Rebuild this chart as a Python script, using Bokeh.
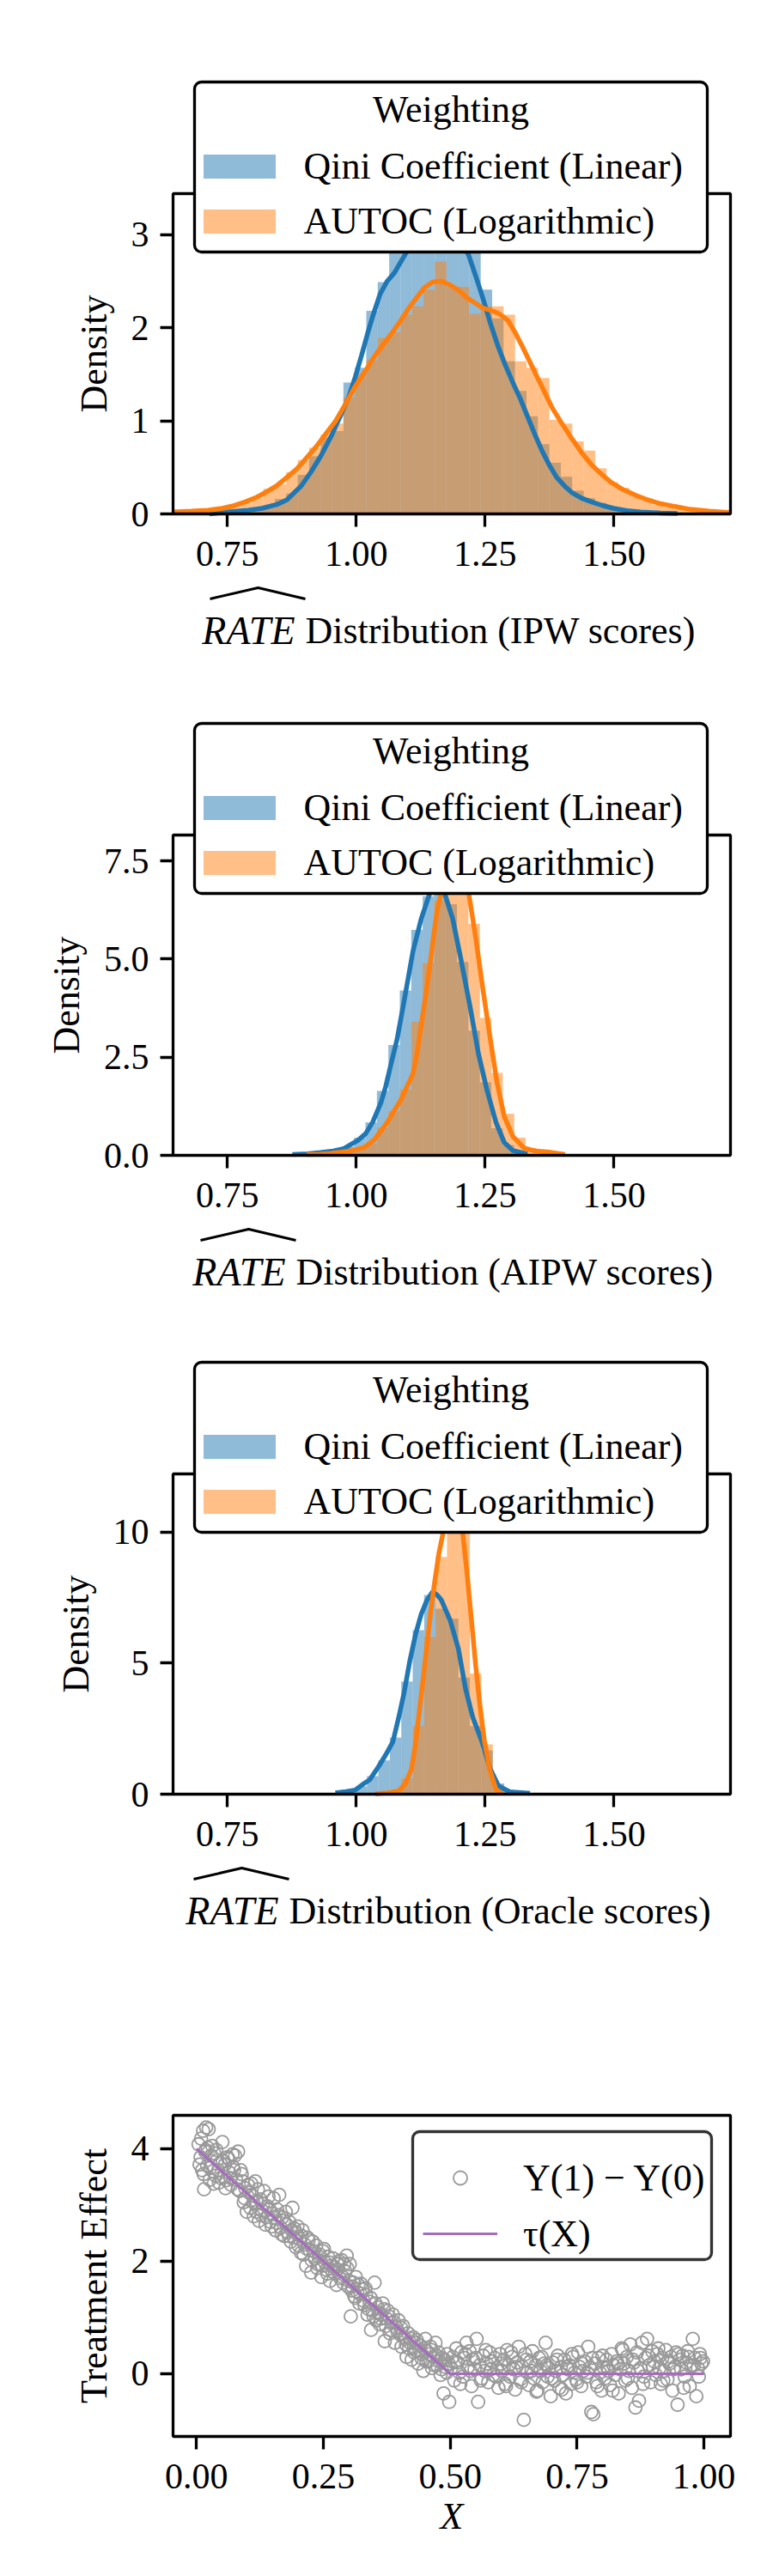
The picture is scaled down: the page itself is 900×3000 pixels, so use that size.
import numpy as np
from bokeh.plotting import figure
from bokeh.models import (Range1d, FixedTicker, NumeralTickFormatter, Legend, LinearAxis,
                          LegendItem, Label, PolyAnnotation, BoxAnnotation)
from bokeh.layouts import column
from bokeh.embed import file_html
from bokeh.resources import INLINE

# ---------------- data ----------------
# IPW scores panel
ipw_bin_start = 0.7086
ipw_bin_width = 0.0222
ipw_qini_hist = [0.0, 0.0, 0.01, 0.02, 0.04, 0.08, 0.16, 0.22, 0.42, 0.62, 0.82, 0.89,
                 1.41, 1.57, 2.18, 2.49, 2.85, 3.0, 3.12, 3.27, 3.05, 3.15, 3.0, 2.9,
                 2.41, 2.1, 1.64, 1.32, 1.05, 0.75, 0.55, 0.4, 0.25, 0.17, 0.12, 0.08,
                 0.06, 0.04, 0.03, 0.02, 0.01, 0.0, 0.0, 0.0, 0.0]
ipw_autoc_hist = [0.03, 0.05, 0.08, 0.12, 0.17, 0.27, 0.32, 0.45, 0.58, 0.71, 0.85, 0.97,
                  1.25, 1.50, 1.65, 1.89, 1.95, 2.14, 2.23, 2.41, 2.71, 2.44, 2.44, 2.15,
                  2.23, 2.23, 2.14, 1.64, 1.57, 1.46, 1.01, 0.97, 0.78, 0.68, 0.49, 0.34,
                  0.28, 0.20, 0.15, 0.10, 0.07, 0.05, 0.04, 0.02, 0.01]
ipw_qini_kde_x = [0.715, 0.75, 0.79, 0.817, 0.845, 0.865, 0.893, 0.912, 0.931, 0.95, 0.969,
                  0.985, 0.998, 1.01, 1.022, 1.034, 1.046, 1.06, 1.074, 1.094, 1.115, 1.135,
                  1.155, 1.175, 1.195, 1.218, 1.232, 1.246, 1.26, 1.275, 1.289, 1.303, 1.318,
                  1.332, 1.346, 1.361, 1.375, 1.389, 1.404, 1.418, 1.437, 1.456, 1.478, 1.499,
                  1.525, 1.552, 1.59, 1.623]
ipw_qini_kde_y = [0.0, 0.02, 0.04, 0.06, 0.1, 0.15, 0.3, 0.45, 0.62, 0.82, 1.05, 1.25, 1.47,
                  1.7, 1.94, 2.16, 2.36, 2.5, 2.59, 2.78, 2.98, 3.1, 3.15, 3.12, 3.0, 2.78,
                  2.55, 2.31, 2.05, 1.8, 1.6, 1.42, 1.24, 1.05, 0.86, 0.67, 0.52, 0.39, 0.3,
                  0.23, 0.17, 0.13, 0.09, 0.06, 0.035, 0.02, 0.01, 0.005]
ipw_autoc_kde_x = [0.6445, 0.68, 0.712, 0.74, 0.76, 0.785, 0.807, 0.827, 0.845, 0.865, 0.884,
                   0.903, 0.922, 0.941, 0.96, 0.979, 0.998, 1.017, 1.036, 1.055, 1.074, 1.089,
                   1.103, 1.118, 1.132, 1.148, 1.165, 1.182, 1.199, 1.215, 1.232, 1.246, 1.26,
                   1.277, 1.294, 1.308, 1.322, 1.337, 1.351, 1.366, 1.38, 1.399, 1.418, 1.437,
                   1.456, 1.475, 1.494, 1.518, 1.542, 1.566, 1.59, 1.618, 1.647, 1.685, 1.726]
ipw_autoc_kde_y = [0.02, 0.03, 0.04, 0.06, 0.085, 0.13, 0.18, 0.24, 0.3, 0.39, 0.48, 0.6, 0.72,
                   0.86, 1.0, 1.18, 1.37, 1.53, 1.7, 1.84, 1.98, 2.1, 2.22, 2.33, 2.43, 2.49,
                   2.5, 2.46, 2.4, 2.32, 2.26, 2.21, 2.19, 2.15, 2.08, 1.95, 1.8, 1.63, 1.47,
                   1.3, 1.14, 0.97, 0.81, 0.66, 0.53, 0.43, 0.34, 0.26, 0.2, 0.15, 0.11, 0.08,
                   0.05, 0.03, 0.015]

# AIPW scores panel
aipw_bin_start = 0.8624
aipw_bin_width = 0.0222
aipw_qini_hist = [0.01, 0.02, 0.04, 0.07, 0.12, 0.22, 0.45, 0.84, 1.64, 2.81, 4.2, 5.74, 6.6,
                  6.9, 6.4, 4.93, 3.18, 1.86, 0.69, 0.26, 0.08, 0.02, 0.0, 0.0, 0.0]
aipw_autoc_hist = [0.0, 0.0, 0.01, 0.03, 0.05, 0.1, 0.17, 0.3, 0.7, 1.13, 1.68, 3.4, 4.9, 6.5,
                   7.7, 7.4, 5.9, 3.5, 2.1, 1.06, 0.45, 0.18, 0.1, 0.06, 0.02]
aipw_qini_kde_x = [0.876, 0.905, 0.93, 0.955, 0.976, 0.99, 1.003, 1.018, 1.032, 1.048, 1.057,
                   1.066, 1.079, 1.093, 1.11, 1.126, 1.143, 1.157, 1.171, 1.187, 1.204, 1.221,
                   1.237, 1.254, 1.271, 1.287, 1.304, 1.326, 1.332]
aipw_qini_kde_y = [0.02, 0.04, 0.07, 0.11, 0.17, 0.28, 0.38, 0.55, 0.85, 1.35, 1.75, 2.25, 2.95,
                   3.95, 5.2, 6.03, 6.69, 6.85, 6.69, 6.03, 4.93, 3.77, 2.59, 1.64, 0.84, 0.33,
                   0.12, 0.05, 0.03]
aipw_autoc_kde_x = [0.904, 0.93, 0.95, 0.97, 0.987, 1.0, 1.015, 1.035, 1.06, 1.087, 1.11, 1.118,
                    1.126, 1.135, 1.143, 1.15, 1.157, 1.165, 1.178, 1.19, 1.204, 1.218, 1.232,
                    1.246, 1.26, 1.273, 1.287, 1.304, 1.326, 1.348, 1.376, 1.405]
aipw_autoc_kde_y = [0.02, 0.03, 0.05, 0.08, 0.11, 0.15, 0.2, 0.4, 0.84, 1.43, 2.08, 2.6, 3.33,
                    4.1, 4.86, 5.6, 6.25, 6.69, 7.4, 7.75, 7.5, 6.69, 5.52, 4.2, 2.96, 1.86,
                    0.99, 0.48, 0.18, 0.11, 0.08, 0.02]

# Oracle scores panel
orc_bin_start = 0.954
orc_bin_width = 0.0222
orc_qini_hist = [0.05, 0.12, 0.3, 0.69, 1.29, 2.16, 4.3, 6.26, 7.6, 7.08, 6.7, 4.45, 2.6, 1.67,
                 0.41, 0.1, 0.04]
orc_autoc_hist = [0.0, 0.0, 0.0, 0.02, 0.04, 0.1, 0.6, 2.6, 6.0, 9.05, 11.64, 10.2, 4.6, 1.9,
                  0.3, 0.08, 0.0]
orc_qini_kde_x = [0.9595, 0.98, 0.998, 1.015, 1.026, 1.043, 1.057, 1.071, 1.082, 1.093, 1.104,
                  1.115, 1.126, 1.137, 1.148, 1.157, 1.165, 1.182, 1.198, 1.212, 1.226, 1.243,
                  1.26, 1.276, 1.298, 1.337]
orc_qini_kde_y = [0.05, 0.1, 0.16, 0.41, 0.55, 1.05, 1.5, 2.0, 2.9, 3.9, 5.1, 6.1, 6.87, 7.4,
                  7.72, 7.6, 7.41, 6.64, 5.55, 4.02, 2.93, 2.05, 0.96, 0.31, 0.09, 0.03]
orc_autoc_kde_x = [1.037, 1.06, 1.082, 1.095, 1.107, 1.114, 1.121, 1.129, 1.137, 1.144, 1.151,
                   1.16, 1.168, 1.177, 1.187, 1.197, 1.2067, 1.215, 1.2234, 1.2317, 1.24,
                   1.2484, 1.2595, 1.2706, 1.2817]
orc_autoc_kde_y = [0.02, 0.05, 0.12, 0.4, 0.96, 1.8, 2.93, 4.3, 5.66, 6.9, 7.96, 9.16, 9.93,
                   10.9, 11.5, 11.2, 9.93, 8.4, 6.65, 4.9, 3.37, 2.05, 0.9, 0.2, 0.03]

series_labels = ["Qini Coefficient (Linear)", "AUTOC (Logarithmic)"]
legend_title = "Weighting"
score_names = ["IPW scores", "AIPW scores", "Oracle scores"]
rate_x_ticks = [0.75, 1.0, 1.25, 1.5]

# Treatment-effect scatter
te_x = [0.004, 0.008, 0.011, 0.013, 0.015, 0.017, 0.019, 0.021, 0.024, 0.026, 0.029, 0.032,
        0.035, 0.038, 0.041, 0.044, 0.047, 0.051, 0.054, 0.057, 0.061, 0.064, 0.068, 0.071,
        0.074, 0.078, 0.082, 0.085, 0.089, 0.093, 0.096, 0.099,
        0.102, 0.106, 0.109, 0.113, 0.116, 0.119, 0.123, 0.126, 0.129, 0.133, 0.136, 0.139,
        0.142, 0.146, 0.149, 0.152, 0.156, 0.159, 0.163, 0.166, 0.169, 0.173, 0.176, 0.179,
        0.183, 0.186, 0.189, 0.193, 0.196, 0.199,
        0.203, 0.206, 0.209, 0.213, 0.216, 0.219, 0.223, 0.226, 0.229, 0.233, 0.236, 0.239,
        0.243, 0.246, 0.249, 0.253, 0.256, 0.259, 0.263, 0.266, 0.269, 0.273, 0.276, 0.279,
        0.283, 0.286, 0.289, 0.293, 0.296, 0.299,
        0.302, 0.304, 0.307, 0.311, 0.314, 0.317, 0.321, 0.324, 0.327, 0.331, 0.334, 0.337,
        0.341, 0.344, 0.347, 0.351, 0.354, 0.357, 0.361, 0.364, 0.367, 0.371, 0.374, 0.377,
        0.381, 0.384, 0.387, 0.391, 0.394, 0.398,
        0.401, 0.404, 0.407, 0.411, 0.414, 0.417, 0.421, 0.424, 0.427, 0.431, 0.434, 0.437,
        0.441, 0.444, 0.447, 0.451, 0.454, 0.457, 0.461, 0.464, 0.467, 0.471, 0.474, 0.477,
        0.481, 0.484, 0.487, 0.491, 0.494, 0.498,
        0.502, 0.505, 0.508, 0.512, 0.515, 0.518, 0.522, 0.525, 0.528, 0.532, 0.535, 0.538,
        0.542, 0.545, 0.548, 0.552, 0.555, 0.558, 0.562, 0.565, 0.568, 0.572, 0.575, 0.578,
        0.582, 0.585, 0.588, 0.592, 0.595, 0.598,
        0.602, 0.605, 0.608, 0.612, 0.615, 0.618, 0.622, 0.625, 0.628, 0.632, 0.635, 0.638,
        0.642, 0.645, 0.648, 0.652, 0.655, 0.658, 0.662, 0.665, 0.668, 0.672, 0.675, 0.678,
        0.682, 0.685, 0.688, 0.692, 0.695, 0.698,
        0.702, 0.705, 0.708, 0.712, 0.715, 0.718, 0.722, 0.725, 0.728, 0.732, 0.735, 0.738,
        0.742, 0.745, 0.748, 0.752, 0.755, 0.758, 0.762, 0.765, 0.768, 0.772, 0.775, 0.778,
        0.782, 0.785, 0.788, 0.792, 0.795, 0.798,
        0.802, 0.805, 0.808, 0.812, 0.815, 0.818, 0.822, 0.825, 0.828, 0.832, 0.835, 0.838,
        0.842, 0.845, 0.848, 0.852, 0.855, 0.858, 0.862, 0.865, 0.868, 0.872, 0.875, 0.878,
        0.882, 0.885, 0.888, 0.892, 0.895, 0.898,
        0.902, 0.905, 0.908, 0.912, 0.915, 0.918, 0.922, 0.925, 0.928, 0.932, 0.935, 0.938,
        0.942, 0.945, 0.948, 0.952, 0.955, 0.958, 0.962, 0.965, 0.968, 0.972, 0.975, 0.978,
        0.982, 0.985, 0.988, 0.992, 0.995, 0.998,
        0.006, 0.009, 0.014, 0.018, 0.022, 0.027, 0.031, 0.034, 0.039, 0.043, 0.048, 0.052,
        0.056, 0.059, 0.063, 0.067, 0.072, 0.076, 0.081, 0.087, 0.091, 0.095,
        0.104, 0.108, 0.112, 0.118, 0.121, 0.128, 0.131, 0.138, 0.144, 0.148, 0.154, 0.158,
        0.162, 0.168, 0.172, 0.178, 0.182, 0.188, 0.192, 0.197,
        0.201, 0.207, 0.211, 0.218, 0.221, 0.227, 0.231, 0.238, 0.241, 0.248, 0.251, 0.258,
        0.262, 0.268, 0.271, 0.278, 0.281, 0.288, 0.291, 0.297,
        0.301, 0.306, 0.309, 0.313, 0.319, 0.323, 0.329, 0.333, 0.339, 0.343, 0.349, 0.353,
        0.359, 0.363, 0.369, 0.373, 0.379, 0.383, 0.389, 0.396,
        0.403, 0.409, 0.413, 0.419, 0.423, 0.429, 0.433, 0.439, 0.443, 0.449, 0.453, 0.459,
        0.463, 0.469, 0.473, 0.479, 0.483, 0.489, 0.493, 0.497,
        0.51, 0.52, 0.53, 0.54, 0.55, 0.56, 0.57, 0.58, 0.59, 0.60,
        0.61, 0.62, 0.63, 0.64, 0.65, 0.66, 0.67, 0.68, 0.69, 0.70,
        0.71, 0.72, 0.73, 0.74, 0.75, 0.76, 0.77, 0.78, 0.79, 0.80,
        0.81, 0.82, 0.83, 0.84, 0.85, 0.86, 0.87, 0.88, 0.89, 0.90,
        0.91, 0.92, 0.93, 0.94, 0.95, 0.96, 0.97, 0.98, 0.99, 0.993]
te_y = [4.08, 3.85, 3.62, 4.32, 3.28, 3.95, 4.38, 3.70, 4.35, 3.45, 3.88, 3.60,
        3.92, 3.52, 3.80, 3.40, 3.75, 4.12, 3.50, 3.30, 3.85, 3.58, 3.36, 3.90,
        3.62, 3.45, 3.95, 3.25, 3.55, 3.05, 3.30, 2.88,
        3.35, 2.95, 3.18, 2.80, 3.42, 3.05, 2.72, 3.10, 2.90, 3.25, 2.65, 2.98,
        3.15, 2.70, 2.85, 3.12, 2.55, 2.92, 3.18, 2.60, 2.78, 2.45, 2.88, 2.52,
        2.70, 2.35, 2.95, 2.58, 2.25, 2.62,
        2.40, 2.15, 2.55, 2.30, 1.92, 2.42, 2.20, 1.80, 2.35, 2.05, 2.28, 1.95,
        2.12, 1.72, 2.18, 1.98, 1.85, 2.08, 1.65, 1.92, 2.05, 1.78, 1.58, 1.95,
        1.70, 2.02, 1.62, 1.82, 2.10, 1.55,
        1.95, 1.02, 1.55, 1.38, 1.72, 1.45, 1.25, 1.60, 1.50, 1.22, 1.40, 1.05,
        1.28, 0.78, 1.12, 1.62, 0.95, 1.18, 0.88, 1.05, 1.25, 0.58, 0.98, 1.12,
        0.72, 0.90, 1.05, 0.55, 0.82, 0.95,
        0.70, 0.48, 0.85, 0.62, 0.30, 0.72, 0.55, 0.25, 0.65, 0.42, 0.60, 0.18,
        0.50, 0.35, 0.05, 0.62, 0.40, 0.22, 0.48, 0.10, 0.30, 0.55, 0.15, 0.38,
        -0.02, 0.28, -0.35, 0.12, 0.35, -0.50,
        0.10, 0.30, -0.12, 0.45, 0.20, 0.02, 0.38, -0.05, 0.28, 0.55, 0.12, 0.40,
        -0.22, 0.25, 0.08, 0.62, -0.50, 0.15, -0.08, 0.32, 0.05, 0.18, -0.15, 0.38,
        0.22, -0.02, 0.28, 0.10, -0.25, 0.35,
        0.05, 0.25, -0.18, 0.42, 0.15, -0.05, 0.30, 0.08, -0.28, 0.20, 0.48, -0.10,
        0.12, -0.82, 0.35, 0.02, -0.20, 0.22, 0.40, -0.08, 0.15, -0.30, 0.28, 0.05,
        -0.15, 0.18, 0.55, -0.05, 0.10, -0.40,
        0.20, -0.12, 0.05, 0.32, -0.25, 0.12, -0.02, 0.25, -0.35, 0.08, 0.15, -0.18,
        0.30, 0.02, -0.10, 0.38, 0.12, -0.22, 0.05, 0.22, -0.05, 0.48, 0.10, -0.68,
        -0.72, 0.18, -0.15, 0.28, 0.02, -0.30,
        0.12, -0.08, 0.25, 0.05, -0.20, 0.35, 0.15, -0.02, 0.22, -0.35, 0.08, 0.45,
        0.18, -0.12, 0.30, 0.05, 0.52, -0.25, 0.20, -0.60, 0.38, -0.48, 0.10, 0.55,
        -0.05, 0.28, 0.62, 0.15, -0.15, 0.40,
        0.22, -0.02, 0.35, 0.10, -0.18, 0.28, 0.05, 0.42, -0.10, 0.18, 0.30, -0.30,
        0.12, 0.38, -0.55, 0.25, 0.08, 0.32, -0.05, 0.20, 0.40, -0.22, 0.15, 0.62,
        0.28, -0.40, 0.10, 0.35, 0.18, 0.22,
        3.72, 4.18, 3.55, 3.98, 4.02, 3.66, 4.05, 3.38, 3.98, 3.62, 3.48, 3.78,
        3.72, 3.44, 3.82, 3.48, 3.68, 3.88, 3.28, 3.62, 3.42, 3.12,
        3.22, 3.38, 3.05, 2.88, 3.28, 2.82, 3.02, 2.78, 2.92, 2.62, 2.78, 2.68,
        2.82, 2.48, 2.72, 2.65, 2.45, 2.55, 2.42, 2.50,
        2.28, 2.45, 2.12, 2.22, 2.38, 2.02, 2.18, 1.88, 2.08, 1.92, 2.22, 1.78,
        1.98, 1.82, 1.90, 1.85, 2.00, 1.72, 1.95, 1.88,
        1.65, 1.48, 1.62, 1.35, 1.58, 1.42, 1.30, 1.52, 1.15, 1.35, 1.02, 1.25,
        1.08, 0.98, 1.15, 0.85, 1.02, 0.78, 0.92, 0.75,
        0.82, 0.65, 0.52, 0.45, 0.62, 0.38, 0.55, 0.42, 0.28, 0.45, 0.22, 0.35,
        0.42, 0.15, 0.32, 0.22, 0.08, 0.25, 0.02, 0.18,
        0.22, -0.18, 0.35, 0.05, 0.28, -0.12, 0.42, 0.08, -0.05, 0.18,
        -0.22, 0.38, 0.12, -0.15, 0.25, 0.05, -0.32, 0.30, 0.15, -0.08,
        0.25, -0.28, 0.12, 0.35, -0.15, 0.18, 0.02, 0.28, -0.22, 0.32,
        0.10, -0.30, 0.18, 0.42, -0.08, 0.25, 0.05, -0.18, 0.32, 0.12,
        0.45, -0.12, 0.22, 0.08, 0.35, -0.25, 0.30, 0.15, -0.05, 0.28]
tau_x = [0.0, 0.5, 1.0]
tau_y = [4.0, 0.0, 0.0]
te_labels = ["Y(1) − Y(0)", "τ(X)"]
te_x_ticks = [0, 0.25, 0.5, 0.75, 1.0]
te_y_ticks = [0, 2, 4]

# ---------------- styling / geometry ----------------
FONT = "Liberation Serif"
TXT = "44px"
TICK = "42px"
BLUE = "#1f77b4"
ORANGE = "#ff7f0e"
FIG_W = 900
BOX_L = 201      # axes box left, px from figure left
BOX_W = 649      # axes box width, px


class Geo:
    """Maps pixel offsets (relative to the axes box) to data coordinates."""

    def __init__(self, H, T, BH, xr, yr):
        self.H, self.T, self.BH = H, T, BH
        self.x0, self.x1 = xr
        self.y0, self.y1 = yr
        self.sx = BOX_W / (self.x1 - self.x0)
        self.sy = BH / (self.y1 - self.y0)
        self.below = H - T - BH

    def X(self, px):
        return self.x0 + px / self.sx

    def Y(self, py):
        return self.y0 + py / self.sy


def style_axis(ax):
    ax.axis_line_color = None
    ax.major_tick_out = 15
    ax.major_tick_in = 0
    ax.major_tick_line_width = 3.3
    ax.major_tick_line_color = "black"
    ax.minor_tick_line_color = None
    ax.major_label_text_font = FONT
    ax.major_label_text_font_size = TICK
    ax.major_label_text_color = "black"
    ax.axis_label_text_font = FONT
    ax.axis_label_text_font_size = TXT
    ax.axis_label_text_font_style = "normal"
    ax.axis_label_text_color = "black"


def base_fig(g, xticks, xfmt, yticks, yfmt, ylabel, xlabel=None):
    p = figure(width=FIG_W, height=g.H,
               x_range=Range1d(g.X(-BOX_L), g.X(FIG_W - BOX_L)),
               y_range=Range1d(g.Y(-g.below), g.Y(g.BH + g.T)),
               x_axis_location=None, y_axis_location=None, min_border=0,
               output_backend="svg", toolbar_location=None)
    p.xgrid.visible = False
    p.ygrid.visible = False
    p.outline_line_color = None
    p.background_fill_color = "white"
    p.border_fill_color = "white"
    xa = LinearAxis(fixed_location=g.y0, bounds=(g.x0, g.x1),
                    ticker=FixedTicker(ticks=xticks),
                    formatter=NumeralTickFormatter(format=xfmt))
    style_axis(xa)
    xa.major_label_standoff = 17
    if xlabel:
        xa.axis_label = xlabel
        xa.axis_label_text_font_style = "italic"
        xa.axis_label_standoff = 5
    p.add_layout(xa, "below")
    ya = LinearAxis(fixed_location=g.x0, bounds=(g.y0, g.y1),
                    ticker=FixedTicker(ticks=yticks),
                    formatter=NumeralTickFormatter(format=yfmt))
    style_axis(ya)
    ya.major_label_standoff = 13
    ya.axis_label = ylabel
    ya.axis_label_standoff = 16
    p.add_layout(ya, "left")
    return p


def add_box(p, g, l, r, b, t, color, fill=None, radius=0):
    box = BoxAnnotation(left=g.X(l), right=g.X(r), bottom=g.Y(b), top=g.Y(t),
                        fill_color=fill, fill_alpha=1.0 if fill else 0.0,
                        line_color=color, line_width=3.3, line_alpha=1.0)
    if radius and "border_radius" in BoxAnnotation.properties():
        box.border_radius = radius
    p.add_layout(box)


def density_panel(H, T, yr, yticks, yfmt, bin_start, bin_width, qini_hist, autoc_hist,
                  qx, qy, ax_, ay, score, rate_end, dist_start):
    g = Geo(H, T, 373, (0.6445, 1.726), yr)
    p = base_fig(g, rate_x_ticks, "0.00", yticks, yfmt, "Density")

    nq = len(qini_hist)
    lq = np.array([bin_start + i * bin_width for i in range(nq)])
    qb = p.quad(left=lq, right=lq + bin_width, bottom=0, top=qini_hist,
                fill_color=BLUE, fill_alpha=0.5, line_color=None)
    na = len(autoc_hist)
    la = np.array([bin_start + i * bin_width for i in range(na)])
    qo = p.quad(left=la, right=la + bin_width, bottom=0, top=autoc_hist,
                fill_color=ORANGE, fill_alpha=0.5, line_color=None)
    p.line(qx, qy, line_color=BLUE, line_width=5.5)
    p.line(ax_, ay, line_color=ORANGE, line_width=5.5)
    add_box(p, g, 0, BOX_W, 0, 373, "black")                    # axes spines

    # legend frame, centred title, and entries
    add_box(p, g, 25, 622, 305, 503, "black", fill="white", radius=8)
    p.add_layout(Label(x=g.X(25 + 597 / 2), y=g.Y(471), text=legend_title,
                       text_font=FONT, text_font_size=TXT, text_align="center",
                       text_baseline="middle", text_color="black"))
    leg = Legend(items=[LegendItem(label=series_labels[0], renderers=[qb]),
                        LegendItem(label=series_labels[1], renderers=[qo])],
                 location=(BOX_L + 24.5, g.below + 315),
                 label_text_font=FONT, label_text_font_size=TXT, label_text_color="black",
                 glyph_width=105, glyph_height=35, label_standoff=23,
                 label_height=52, spacing=12, padding=5, margin=0,
                 border_line_color=None, background_fill_alpha=0.0)
    p.add_layout(leg)

    # x-axis label: hatted italic RATE followed by the rest
    p.add_layout(Label(x=g.X(rate_end), y=g.Y(-136), text="RATE", text_font=FONT,
                       text_font_size="46px", text_font_style="italic", text_align="right",
                       text_baseline="alphabetic", text_color="black"))
    p.add_layout(Label(x=g.X(dist_start), y=g.Y(-136), text="Distribution (" + score + ")",
                       text_font=FONT, text_font_size=TXT, text_align="left",
                       text_baseline="alphabetic", text_color="black"))
    w = 110
    hx = [g.X(rate_end - w + 11), g.X(rate_end - w / 2 + 12), g.X(rate_end + 12),
          g.X(rate_end - w / 2 + 12)]
    hy = [g.Y(-99), g.Y(-86), g.Y(-99), g.Y(-86)]
    p.add_layout(PolyAnnotation(xs=hx, ys=hy, fill_alpha=0.0, fill_color=None,
                                line_color="black", line_alpha=1.0, line_width=3))
    return p


# figure heights/tops chosen so that every text sits well inside its own figure
p1 = density_panel(790, 225, (0, 3.44), [0, 1, 2, 3], "0", ipw_bin_start, ipw_bin_width,
                   ipw_qini_hist, ipw_autoc_hist, ipw_qini_kde_x, ipw_qini_kde_y,
                   ipw_autoc_kde_x, ipw_autoc_kde_y, score_names[0], 142, 154)
p2 = density_panel(750, 182, (0, 8.16), [0, 2.5, 5, 7.5], "0.0", aipw_bin_start,
                   aipw_bin_width, aipw_qini_hist, aipw_autoc_hist, aipw_qini_kde_x,
                   aipw_qini_kde_y, aipw_autoc_kde_x, aipw_autoc_kde_y, score_names[1],
                   131, 143)
p3 = density_panel(750, 176, (0, 12.22), [0, 5, 10], "0", orc_bin_start, orc_bin_width,
                   orc_qini_hist, orc_autoc_hist, orc_qini_kde_x, orc_qini_kde_y,
                   orc_autoc_kde_x, orc_autoc_kde_y, score_names[2], 123, 135)

# ---------------- scatter panel ----------------
g4 = Geo(706, 173, 374, (-0.0462, 1.0523), (-1.115, 4.595))
p4 = base_fig(g4, te_x_ticks, "0.00", te_y_ticks, "0", "Treatment Effect", xlabel="X")
sc = p4.scatter(te_x, te_y, marker="circle", size=15, fill_color=None,
                line_color="#999999", line_width=1.8)
ln = p4.line(tau_x, tau_y, line_color="#a66cbf", line_width=3)
add_box(p4, g4, 0, BOX_W, 0, 374, "black")
add_box(p4, g4, 279, 627, 206, 355, "#333333", fill="white", radius=8)
leg4 = Legend(items=[LegendItem(label=te_labels[0], renderers=[sc]),
                     LegendItem(label=te_labels[1], renderers=[ln])],
              location=(BOX_L + 291, g4.below + 210), label_text_font=FONT,
              label_text_font_size=TXT, label_text_color="black",
              glyph_width=87, glyph_height=40, label_standoff=30,
              label_height=52, spacing=13, padding=14, margin=0,
              border_line_color=None, background_fill_alpha=0.0)
p4.add_layout(leg4)

layout = column(p1, p2, p3, p4)
open("out.html", "w").write(file_html(layout, INLINE))
